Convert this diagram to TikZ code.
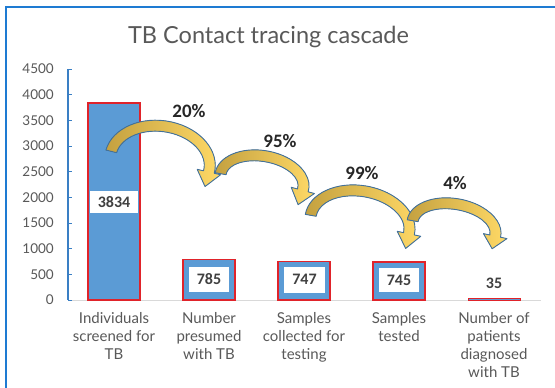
\documentclass[tikz,border=0pt]{standalone}
\usepackage{fontspec}
\setmainfont{Lato}
\newfontfamily\numfont{Carlito}

\definecolor{framecol}{HTML}{1E7BD2}
\definecolor{axisblue}{HTML}{3A7FC4}
\definecolor{gridgray}{HTML}{D9D9D9}
\definecolor{textgray}{HTML}{595959}
\definecolor{labelgray}{HTML}{404040}
\definecolor{barblue}{HTML}{5B9BD5}
\definecolor{barred}{HTML}{E0232A}
\definecolor{golddark}{HTML}{C4A140}
\definecolor{goldlight}{HTML}{FFD966}
\definecolor{arrowline}{HTML}{41719C}

\tikzset{
  databar/.style={fill=barblue, draw=barred, line width=1.5pt},
  vallabel/.style={fill=white, inner sep=0pt, text=labelgray,
    font=\numfont\bfseries\fontsize{16}{16}\selectfont},
  pct/.style={font=\numfont\bfseries\fontsize{19}{19}\selectfont, text=black!85},
  category/.style={font=\fontsize{15}{18}\selectfont, text=textgray,
    align=center, anchor=north, inner sep=0pt},
  ticklabel/.style={font=\fontsize{13.5}{13.5}\selectfont, text=textgray,
    anchor=east, inner sep=0pt},
  curvearrow/.style={draw=arrowline, line width=0.9pt, left color=golddark,
    right color=goldlight, line join=round},
}

% curved band arrow along an ellipse arc:
% #1,#2 centre, #3,#4 radii, #5 rotation, #6 start angle, #7 end angle, #8 head length
\newcommand\bentarrow[8]{%
  \begin{scope}[shift={(#1,#2)},rotate=#5]
    \pgfmathsetmacro\baOx{#3+5.5}\pgfmathsetmacro\baOy{#4+5.5}
    \pgfmathsetmacro\baIx{#3-5.5}\pgfmathsetmacro\baIy{#4-5.5}
    \pgfmathsetmacro\baWx{#3+12}\pgfmathsetmacro\baWy{#4+12}
    \pgfmathsetmacro\baVx{#3-12}\pgfmathsetmacro\baVy{#4-12}
    \pgfmathsetmacro\baTx{-#3*sin(#7)}\pgfmathsetmacro\baTy{#4*cos(#7)}
    \pgfmathsetmacro\baTn{veclen(\baTx,\baTy)}
    \pgfmathsetmacro\baPx{#3*cos(#7)+#8*\baTx/\baTn}
    \pgfmathsetmacro\baPy{#4*sin(#7)+#8*\baTy/\baTn}
    \filldraw[curvearrow] (#6:{\baOx} and {\baOy})
      arc[start angle=#6, end angle=#7, x radius=\baOx, y radius=\baOy]
      -- (#7:{\baWx} and {\baWy}) -- (\baPx,\baPy) -- (#7:{\baVx} and {\baVy})
      -- (#7:{\baIx} and {\baIy})
      arc[start angle=#7, end angle=#6, x radius=\baIx, y radius=\baIy] -- cycle;
  \end{scope}}

\begin{document}
\begin{tikzpicture}[x=1pt,y=-1pt]
  \useasboundingbox (0,0) rectangle (555,388);
  \fill[white] (0,0) rectangle (555,388);

  % chart frame
  \draw[framecol, line width=2pt] (6,388) -- (6,7) -- (555,7);

  % title
  \node[font=\fontsize{23.5}{24}\selectfont, text=textgray, anchor=base]
    (title) at (268.5,43) {TB Contact tracing cascade};

  % horizontal axis
  \draw[gridgray, line width=1pt] (68,300) -- (541,300);

  % bars (1 unit = 0.05133 pt)
  \draw[databar] (88,300)  rectangle (140,{300-3834*0.05133});
  \draw[databar] (183,300) rectangle (235,{300-785*0.05133});
  \draw[databar] (278,300) rectangle (330,{300-747*0.05133});
  \draw[databar] (373,300) rectangle (425,{300-745*0.05133});
  \draw[databar, line width=1pt] (468,300) rectangle (520,{300-35*0.05133});

  % vertical axis with ticks and labels
  \draw[axisblue, line width=1.2pt] (68,69) -- (68,300);
  \foreach \k in {0,...,9}{
    \draw[axisblue, line width=1pt] (68,{300-\k*25.665}) -- ++(4,0);
    \pgfmathtruncatemacro\tickval{\k*500}
    \node[ticklabel] (t\k) at (54,{300-\k*25.665}) {\tickval};
  }

  % value labels
  \node[vallabel, minimum width=48pt, minimum height=22pt] (v1) at (114,202) {3834};
  \node[vallabel, minimum width=40pt, minimum height=25pt] (v2) at (209,279.5) {785};
  \node[vallabel, minimum width=41pt, minimum height=26pt] (v3) at (304.5,279.7) {747};
  \node[vallabel, minimum width=40pt, minimum height=24pt] (v4) at (399,280) {745};
  \node[vallabel, fill=none] (v5) at (494,283) {35};

  % category labels
  \node[category] (c1) at (114,312.5) {Individuals\\screened for\\TB};
  \node[category] (c2) at (209,312.5) {Number\\presumed\\with TB};
  \node[category] (c3) at (304,312.5) {Samples\\collected for\\testing};
  \node[category] (c4) at (399,312.5) {Samples\\tested};
  \node[category] (c5) at (494,312.5) {Number of\\patients\\diagnosed\\with TB};

  % conversion arrows
  \bentarrow{160}{162}{50}{36}{-8}{186}{365}{15}
  \bentarrow{262}{181}{42}{25}{-10}{180}{365}{15}
  \bentarrow{360}{224}{50}{33}{-10}{180}{362}{15}
  \bentarrow{454}{228}{42}{24}{-10}{180}{362}{13}

  % conversion percentages
  \node[pct] (p1) at (189,111) {20\%};
  \node[pct] (p2) at (280,141) {95\%};
  \node[pct] (p3) at (362,173) {99\%};
  \node[pct] (p4) at (455,183) {4\%};
\end{tikzpicture}
\end{document}
